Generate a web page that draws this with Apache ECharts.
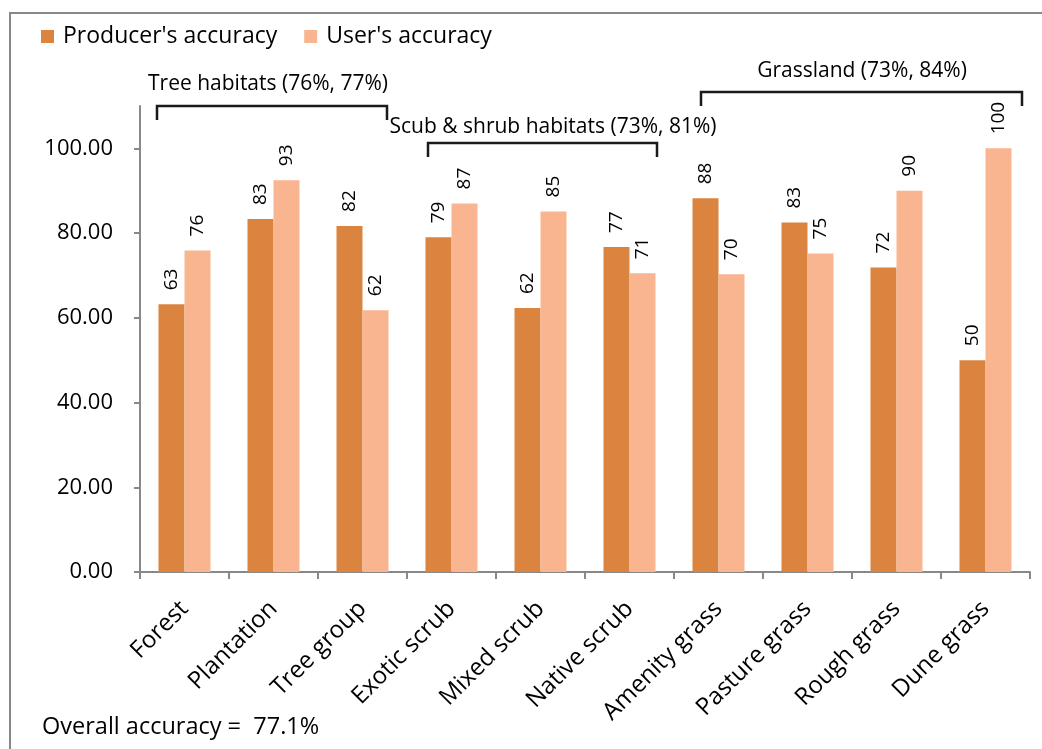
<!DOCTYPE html>
<html><head><meta charset="utf-8">
<script src="https://cdn.jsdelivr.net/npm/echarts@6/dist/echarts.min.js"></script>
<style>html,body{margin:0;padding:0;background:#fff}#c{width:1042px;height:749px}</style>
</head><body><div id="c"></div>
<script>
const categories = ['Forest','Plantation','Tree group','Exotic scrub','Mixed scrub','Native scrub','Amenity grass','Pasture grass','Rough grass','Dune grass'];
const producers = [63.2, 83.3, 81.7, 79.0, 62.3, 76.7, 88.2, 82.5, 71.9, 50.0];
const users = [75.9, 92.5, 61.8, 87.0, 85.1, 70.5, 70.3, 75.2, 90.0, 100.0];
const yTicks = [0, 20, 40, 60, 80, 100];
const seriesNames = ["Producer's accuracy", "User's accuracy"];
const groupLabels = ['Tree habitats (76%, 77%)', 'Scub & shrub habitats (73%, 81%)', 'Grassland (73%, 84%)'];
const overallText = 'Overall accuracy =  77.1%';

const FONT = 'Open Sans';
const chart = echarts.init(document.getElementById('c'));
const lbl = {show:true, position:'top', rotate:90, align:'left', verticalAlign:'middle', distance:14,
  fontFamily:FONT, fontSize:19, color:'#000', formatter: p => Math.round(p.value)};
function bracket(x1, x2, y, h) {
  return {type:'polyline', shape:{points:[[x1,y+h],[x1,y],[x2,y],[x2,y+h]]},
    style:{stroke:'#1a1a1a', lineWidth:2.5, fill:null}};
}
function txt(t, x, y, align, size) {
  return {type:'text', x:x, y:y, style:{text:t, fontFamily:FONT, fontSize:size||21, fill:'#000', align:align||'center', verticalAlign:'middle'}};
}
chart.setOption({
  animation:false,
  backgroundColor:'#fff',
  legend:{left:36, top:20, itemWidth:13, itemHeight:13, itemGap:27, icon:'rect',
    textStyle:{fontFamily:FONT, fontSize:23, color:'#000', padding:[0,0,0,4]}, data:seriesNames},
  grid:{left:140, right:12, top:106, bottom:177, containLabel:false},
  xAxis:{type:'category', data:categories,
    axisLine:{lineStyle:{color:'#888', width:2}},
    axisTick:{show:true, alignWithLabel:false, length:7, lineStyle:{color:'#888', width:2}},
    axisLabel:{rotate:45, interval:0, margin:33, fontFamily:FONT, fontSize:24, color:'#000'}},
  yAxis:{type:'value', min:0, max:110, interval:10,
    splitLine:{show:false},
    axisLine:{show:true, lineStyle:{color:'#888', width:2}},
    axisTick:{show:true, length:6, lineStyle:{color:'#888', width:2}, customValues:yTicks},
    axisLabel:{customValues:yTicks, margin:27, fontFamily:FONT, fontSize:22, color:'#000', formatter: v => v.toFixed(2)}},
  series:[
    {name:seriesNames[0], type:'bar', data:producers, barWidth:26, barGap:'0%', itemStyle:{color:'#DB843F'}, label:lbl},
    {name:seriesNames[1], type:'bar', data:users, barWidth:26, barGap:'0%', itemStyle:{color:'#F8B590'}, label:lbl}
  ],
  graphic:[
    {type:'rect', shape:{x:10, y:13, width:1200, height:900}, style:{fill:null, stroke:'#888', lineWidth:2}, silent:true},
    bracket(157, 387, 106, 14), txt(groupLabels[0], 268, 84),
    bracket(428, 657, 143, 14), txt(groupLabels[1], 553, 127),
    bracket(701, 1022, 92, 14), txt(groupLabels[2], 862, 71),
    txt(overallText, 42, 727, 'left', 23.5)
  ]
});
</script></body></html>
